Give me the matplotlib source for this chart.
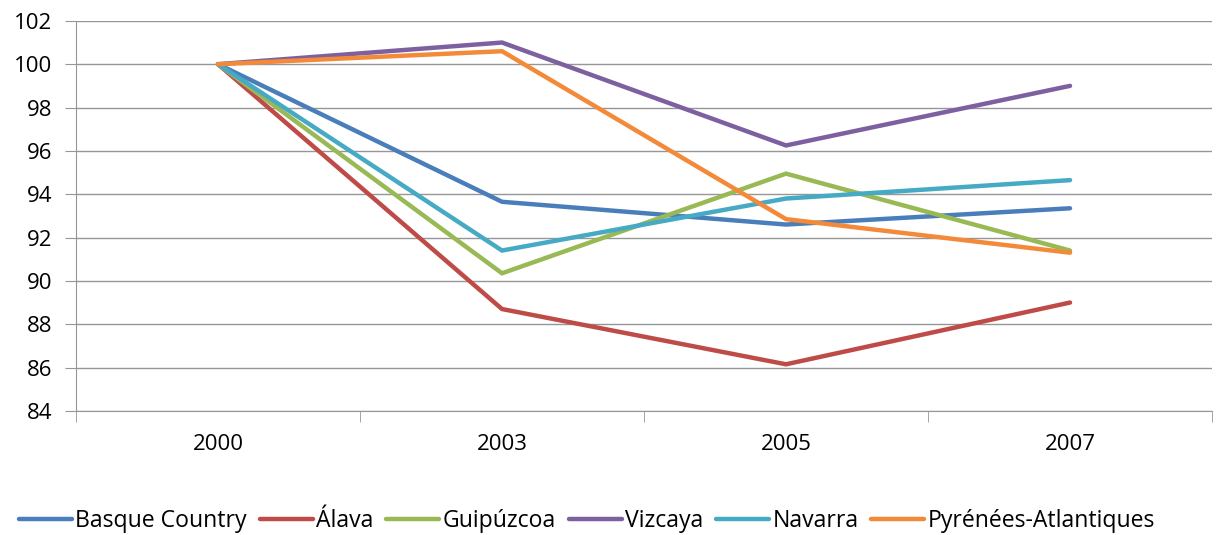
import matplotlib.pyplot as plt
import numpy as np

# Índices (2000 = 100) por territorio
years = ['2000', '2003', '2005', '2007']
basque_country = [100, 93.65, 92.6, 93.35]
alava = [100, 88.7, 86.15, 89.0]
guipuzcoa = [100, 90.35, 94.95, 91.4]
vizcaya = [100, 101.0, 96.25, 99.0]
navarra = [100, 91.4, 93.8, 94.65]
pyrenees = [100, 100.6, 92.85, 91.3]

series = [
    ('Basque Country', basque_country, '#4A7EBB'),
    ('Álava', alava, '#BE4B48'),
    ('Guipúzcoa', guipuzcoa, '#98B954'),
    ('Vizcaya', vizcaya, '#7D60A0'),
    ('Navarra', navarra, '#46AAC5'),
    ('Pyrénées-Atlantiques', pyrenees, '#F38A3A'),
]

plt.rcParams['font.family'] = ['Open Sans', 'DejaVu Sans']

fig = plt.figure(figsize=(12.18, 5.35), dpi=100)
ax = fig.add_axes([0.0624, 0.232, 0.9327, 0.729])

x = np.arange(len(years))
for name, vals, col in series:
    ax.plot(x, vals, color=col, lw=3.2, label=name, solid_capstyle='round',
            solid_joinstyle='miter')

ax.set_xlim(-0.5, 3.5)
ax.set_ylim(84, 102)
ax.set_yticks(np.arange(84, 103, 2))
ax.yaxis.grid(True, color='#969696', lw=1)
ax.set_axisbelow(True)

ax.set_xticks(x)
ax.set_xticklabels(years)
ax.set_xticks(np.arange(-0.5, 3.6, 1), minor=True)
ax.tick_params(axis='x', which='major', length=0, pad=17, labelsize=16)
ax.tick_params(axis='x', which='minor', length=8, color='#969696', direction='out')
ax.tick_params(axis='y', length=8, color='#969696', labelsize=16, pad=9)

for side in ['top', 'right']:
    ax.spines[side].set_visible(False)
for side in ['left', 'bottom']:
    ax.spines[side].set_color('#969696')

fig.legend(loc='center', bbox_to_anchor=(0.482, 0.026), ncol=6, frameon=False,
           fontsize=16.6, handlelength=2.3, handletextpad=0.15, columnspacing=0.55)

plt.savefig('out.png', dpi=100)
